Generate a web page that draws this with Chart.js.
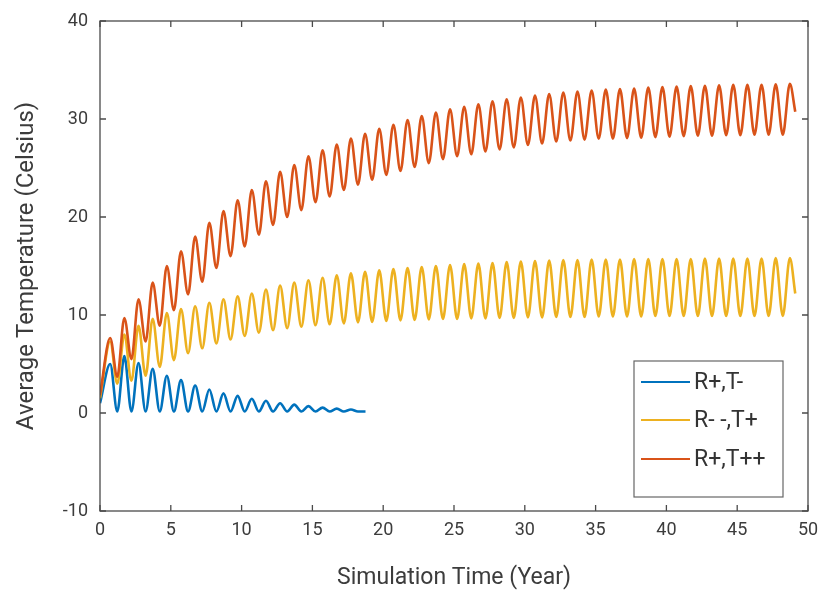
<!DOCTYPE html>
<html>
<head>
<meta charset="utf-8">
<script src="https://cdn.jsdelivr.net/npm/chart.js@4.4.0/dist/chart.umd.min.js"></script>
<style>
  body { margin: 0; background: #fff; }
  #wrap { width: 821px; height: 594px; position: relative; }
</style>
</head>
<body>
<div id="wrap"><canvas id="temps"></canvas></div>
<script>
// series labels
const seriesLabels = ['R+,T-', 'R- -,T+', 'R+,T++'];

// x ticks / y ticks
const xTicks = [0, 5, 10, 15, 20, 25, 30, 35, 40, 45, 50];
const yTicks = [-10, 0, 10, 20, 30, 40];

// the curves oscillate once a year: peak near x = n + 0.72, trough near x = n + 1.22
const PEAK_PHASE = 0.72;
const TROUGH_PHASE = 0.22;

// R+,T-  (blue, dies out around year 18.7)
const blueStart = 1.0;
const bluePeaks = [5.0, 5.8, 5.1, 4.5, 3.8, 3.35, 2.8, 2.4, 2.0, 1.75,
  1.45, 1.25, 1.0, 0.85, 0.7, 0.55, 0.45, 0.35];
const blueTroughs = [0.15, 0.15, 0.15, 0.15, 0.15, 0.15, 0.15, 0.15, 0.15, 0.15,
  0.15, 0.15, 0.15, 0.15, 0.15, 0.15, 0.15, 0.15];
const blueEnd = { x: 18.75, y: 0.15 };

// R- -,T+  (yellow)
const yellowStart = 1.5;
const yellowPeaks = [7.3, 8.0, 8.9, 9.6, 10.2, 10.6, 10.9, 11.25, 11.6, 11.9,
  12.2, 12.6, 13.0, 13.3, 13.55, 13.8, 14.05, 14.25, 14.4, 14.55,
  14.7, 14.8, 14.9, 15.0, 15.1, 15.2, 15.25, 15.3, 15.4, 15.45,
  15.5, 15.55, 15.6, 15.6, 15.65, 15.65, 15.65, 15.7, 15.7, 15.7,
  15.7, 15.7, 15.75, 15.75, 15.75, 15.75, 15.75, 15.8, 15.8];
const yellowTroughs = [3.0, 3.3, 3.8, 4.7, 5.4, 6.1, 6.6, 7.1, 7.5, 7.85,
  8.2, 8.45, 8.65, 8.8, 8.95, 9.05, 9.15, 9.25, 9.3, 9.4,
  9.45, 9.5, 9.55, 9.6, 9.6, 9.65, 9.65, 9.7, 9.7, 9.75,
  9.75, 9.8, 9.8, 9.8, 9.85, 9.85, 9.85, 9.85, 9.9, 9.9,
  9.9, 9.9, 9.9, 9.9, 9.9, 9.9, 9.9, 9.9];
const yellowEnd = { x: 49.1, y: 12.2 };

// R+,T++  (red)
const redStart = 1.8;
const redPeaks = [7.65, 9.7, 11.6, 13.3, 15.0, 16.5, 18.0, 19.4, 20.6, 21.7,
  22.75, 23.65, 24.6, 25.3, 26.2, 26.8, 27.4, 28.0, 28.5, 29.0,
  29.4, 29.9, 30.3, 30.65, 31.0, 31.25, 31.5, 31.8, 32.0, 32.2,
  32.4, 32.55, 32.7, 32.8, 32.9, 33.0, 33.05, 33.1, 33.2, 33.25,
  33.3, 33.35, 33.4, 33.45, 33.5, 33.5, 33.5, 33.55, 33.6];
const redTroughs = [3.7, 5.5, 7.3, 8.9, 10.5, 12.1, 13.4, 14.8, 16.0, 17.0,
  18.2, 19.2, 20.0, 20.7, 21.5, 22.1, 22.75, 23.3, 23.8, 24.3,
  24.7, 25.1, 25.5, 25.9, 26.2, 26.4, 26.7, 26.9, 27.1, 27.35,
  27.5, 27.7, 27.8, 27.9, 28.0, 28.0, 28.05, 28.1, 28.15, 28.2,
  28.25, 28.3, 28.3, 28.35, 28.35, 28.4, 28.4, 28.4];
const redEnd = { x: 49.1, y: 30.75 };

const colors = ['#0072BD', '#EDB120', '#D95319'];

// turn the peak / trough lists into (x, y) points
function buildPoints(start, peaks, troughs, end) {
  const pts = [{ x: 0, y: start }];
  for (let i = 0; i < peaks.length; i++) {
    pts.push({ x: i + PEAK_PHASE, y: peaks[i] });
    if (i < troughs.length) pts.push({ x: i + 1 + TROUGH_PHASE, y: troughs[i] });
  }
  pts.push(end);
  return pts;
}

const FONT = 'Roboto, "Noto Sans", sans-serif';
const TEXT = '#3c3c3c';
const FRAME = '#4a4a4a';

// matlab-ish box with inward ticks on all four sides
const framePlugin = {
  id: 'frame',
  afterDatasetsDraw(chart) {
    const { ctx, chartArea: a, scales } = chart;
    ctx.save();
    ctx.strokeStyle = FRAME;
    ctx.lineWidth = 1.3;
    ctx.strokeRect(a.left, a.top, a.right - a.left, a.bottom - a.top);
    const len = 6;
    ctx.beginPath();
    scales.x.ticks.forEach(t => {
      const px = scales.x.getPixelForValue(t.value);
      ctx.moveTo(px, a.bottom); ctx.lineTo(px, a.bottom - len);
      ctx.moveTo(px, a.top); ctx.lineTo(px, a.top + len);
    });
    scales.y.ticks.forEach(t => {
      const py = scales.y.getPixelForValue(t.value);
      ctx.moveTo(a.left, py); ctx.lineTo(a.left + len, py);
      ctx.moveTo(a.right, py); ctx.lineTo(a.right - len, py);
    });
    ctx.stroke();
    ctx.restore();
  }
};

// legend box in the lower right corner of the axes
const boxLegend = {
  id: 'boxLegend',
  afterDraw(chart) {
    const { ctx } = chart;
    const left = 634, top = 361, w = 149, h = 136;
    ctx.save();
    ctx.fillStyle = '#fff';
    ctx.fillRect(left, top, w, h);
    ctx.strokeStyle = '#666';
    ctx.lineWidth = 1.2;
    ctx.strokeRect(left, top, w, h);
    ctx.font = '23px ' + FONT;
    ctx.textBaseline = 'middle';
    ctx.fillStyle = '#333';
    const rows = [382, 420, 459];
    seriesLabels.forEach((lab, i) => {
      ctx.strokeStyle = colors[i];
      ctx.lineWidth = 2.2;
      ctx.beginPath();
      ctx.moveTo(641, rows[i]);
      ctx.lineTo(690, rows[i]);
      ctx.stroke();
      ctx.fillText(lab, 694, rows[i] + 1);
    });
    ctx.restore();
  }
};

const series = [
  buildPoints(blueStart, bluePeaks, blueTroughs, blueEnd),
  buildPoints(yellowStart, yellowPeaks, yellowTroughs, yellowEnd),
  buildPoints(redStart, redPeaks, redTroughs, redEnd),
];

const ctx = document.getElementById('temps');

new Chart(ctx, {
  type: 'line',
  data: {
    datasets: series.map((pts, i) => ({
      label: seriesLabels[i],
      data: pts,
      borderColor: colors[i],
      borderWidth: 2.6,
      pointRadius: 0,
      fill: false,
      cubicInterpolationMode: 'monotone',
      order: 3 - i,
    })),
  },
  options: {
    responsive: true,
    maintainAspectRatio: false,
    animation: false,
    events: [],
    layout: { padding: { left: 0, right: 13, top: 21, bottom: 0 } },
    plugins: {
      legend: { display: false },
      tooltip: { enabled: false },
    },
    scales: {
      x: {
        type: 'linear',
        min: xTicks[0],
        max: xTicks[xTicks.length - 1],
        afterBuildTicks: s => { s.ticks = xTicks.map(v => ({ value: v })); },
        afterFit: s => { s.height = 83; s.paddingLeft = 0; s.paddingRight = 0; },
        grid: { display: false, drawTicks: false },
        border: { display: false },
        ticks: { color: TEXT, font: { family: FONT, size: 18 }, padding: 9, maxRotation: 0 },
        title: {
          display: true,
          text: 'Simulation Time (Year)',
          color: TEXT,
          font: { family: FONT, size: 23 },
          padding: { top: 0, bottom: 2 },
        },
      },
      y: {
        type: 'linear',
        min: yTicks[0],
        max: yTicks[yTicks.length - 1],
        afterBuildTicks: s => { s.ticks = yTicks.map(v => ({ value: v })); },
        afterFit: s => { s.width = 100; s.paddingTop = 0; s.paddingBottom = 0; },
        grid: { display: false, drawTicks: false },
        border: { display: false },
        ticks: { color: TEXT, font: { family: FONT, size: 18 }, padding: 12 },
        title: {
          display: true,
          text: 'Average Temperature (Celsius)',
          color: TEXT,
          font: { family: FONT, size: 24 },
          padding: { top: 13, bottom: 0 },
        },
      },
    },
  },
  plugins: [framePlugin, boxLegend],
});
</script>
</body>
</html>
